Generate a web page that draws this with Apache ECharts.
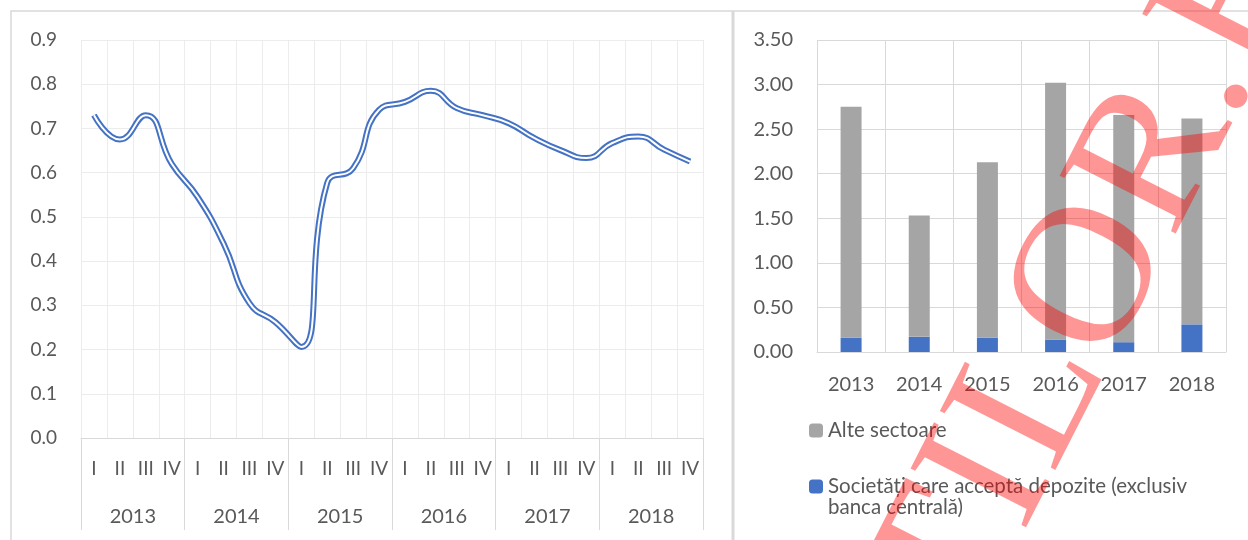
<!DOCTYPE html>
<html lang="ro">
<head>
    <meta charset="UTF-8">
    <script src="https://cdn.jsdelivr.net/npm/echarts@6/dist/echarts.min.js"></script>
    <style>
        body, html {
            margin: 0;
            height: 100%;
            background: #fff;
        }

        #main {
            width: 1248px;
            height: 540px;
        }
    </style>
    <title>Grafic</title>
</head>
<body>

<div id="main"></div>
<script type="text/javascript">
    const myChart = echarts.init(document.getElementById('main'));

    // ani si trimestre
    const years = ['2013', '2014', '2015', '2016', '2017', '2018'];
    const quarters = ['I', 'II', 'III', 'IV'];

    // grafic stanga, valori trimestriale
    const ratio = [0.73, 0.675, 0.73, 0.62, 0.545, 0.44, 0.305, 0.262,
        0.206, 0.577, 0.61, 0.742, 0.76, 0.785, 0.746, 0.73,
        0.712, 0.678, 0.651, 0.633, 0.667, 0.682, 0.652, 0.625];

    // grafic dreapta, pe ani
    const depositNames = ['Alte sectoare', 'Societăți care acceptă depozite (exclusiv banca centrală)'];
    const otherSectors = [2.59, 1.36, 1.97, 2.88, 2.55, 2.31];
    const depositCorps = [0.16, 0.17, 0.16, 0.14, 0.11, 0.31];

    const quarterCats = [];
    years.forEach(function (y) {
        quarters.forEach(function (q) {
            quarterCats.push(q);
        });
    });

    const txt = '#595959';
    const font = 'Lato, "Open Sans", sans-serif';

    const option = {
        animation: false,
        textStyle: {fontFamily: font},
        grid: [
            {left: 81, right: 545, top: 40, bottom: 102},
            {left: 817, right: 22, top: 40, bottom: 188}
        ],
        xAxis: [
            {
                gridIndex: 0,
                type: 'category',
                data: quarterCats,
                axisLine: {lineStyle: {color: '#d9d9d9'}},
                axisTick: {show: false},
                axisLabel: {interval: 0, margin: 21, color: txt, fontSize: 19, fontFamily: font},
                splitLine: {show: true, interval: 0, lineStyle: {color: '#ececec'}}
            },
            {
                gridIndex: 0,
                type: 'category',
                position: 'bottom',
                data: years,
                axisLine: {show: false},
                axisTick: {show: true, length: 92, lineStyle: {color: '#d9d9d9'}},
                axisLabel: {margin: 69, color: txt, fontSize: 20, fontFamily: font},
                splitLine: {show: false}
            },
            {
                gridIndex: 1,
                type: 'category',
                data: years,
                axisLine: {lineStyle: {color: '#d9d9d9'}},
                axisTick: {show: false},
                axisLabel: {margin: 23, color: txt, fontSize: 20, fontFamily: font},
                splitLine: {show: true, lineStyle: {color: '#d9d9d9'}}
            }
        ],
        yAxis: [
            {
                gridIndex: 0,
                type: 'value',
                min: 0,
                max: 0.9,
                interval: 0.1,
                axisLabel: {
                    margin: 24, color: txt, fontSize: 19, fontFamily: font,
                    formatter: function (v) { return v.toFixed(1); }
                },
                splitLine: {lineStyle: {color: '#ececec'}}
            },
            {
                gridIndex: 1,
                type: 'value',
                min: 0,
                max: 3.5,
                interval: 0.5,
                axisLabel: {
                    margin: 24, color: txt, fontSize: 20, fontFamily: font,
                    formatter: function (v) { return v.toFixed(2); }
                },
                splitLine: {lineStyle: {color: '#d9d9d9'}}
            }
        ],
        legend: [
            {
                data: [depositNames[0]],
                left: 809,
                top: 420,
                orient: 'vertical',
                padding: 0,
                itemWidth: 14,
                itemHeight: 14,
                textStyle: {color: txt, fontSize: 20.5, lineHeight: 21, fontFamily: font}
            },
            {
                data: [depositNames[1]],
                left: 809,
                top: 455,
                orient: 'vertical',
                padding: 0,
                itemWidth: 14,
                itemHeight: 14,
                // linie goala sus ca patratul sa stea in dreptul primului rand
                formatter: function (name) {
                    return ' \n' + name.replace(' banca', '\nbanca');
                },
                textStyle: {color: txt, fontSize: 20.5, lineHeight: 21, fontFamily: font}
            }
        ],
        series: [
            {
                type: 'line',
                xAxisIndex: 0,
                yAxisIndex: 0,
                data: ratio,
                smooth: true,
                showSymbol: false,
                lineStyle: {color: '#4472c4', width: 6},
                z: 3
            },
            {
                type: 'line',
                xAxisIndex: 0,
                yAxisIndex: 0,
                data: ratio,
                smooth: true,
                showSymbol: false,
                lineStyle: {color: '#ffffff', width: 2},
                z: 4
            },
            {
                name: depositNames[1],
                type: 'bar',
                xAxisIndex: 2,
                yAxisIndex: 1,
                stack: 'total',
                barWidth: 21,
                itemStyle: {color: '#4472c4'},
                data: depositCorps
            },
            {
                name: depositNames[0],
                type: 'bar',
                xAxisIndex: 2,
                yAxisIndex: 1,
                stack: 'total',
                barWidth: 21,
                itemStyle: {color: '#a5a5a5'},
                data: otherSectors
            }
        ],
        graphic: [
            {
                type: 'rect',
                shape: {x: 11, y: 11, width: 1400, height: 700},
                style: {fill: null, stroke: '#d9d9d9', lineWidth: 1.5},
                silent: true,
                z: 0
            },
            {
                type: 'line',
                shape: {x1: 733, y1: 11, x2: 733, y2: 540},
                style: {stroke: '#d9d9d9', lineWidth: 3},
                silent: true,
                z: 0
            },
            {
                // filigran rosu
                type: 'text',
                x: 1060,
                y: 346,
                rotation: 63 * Math.PI / 180,
                silent: true,
                z: 100,
                style: {
                    text: 'AȚILOR.E',
                    fontSize: 198,
                    fontFamily: '"Liberation Serif", "DejaVu Serif", serif',
                    fill: 'rgba(255,0,0,0.41)',
                    align: 'center',
                    verticalAlign: 'middle'
                }
            }
        ]
    };
    myChart.setOption(option);
</script>
</body>
</html>
